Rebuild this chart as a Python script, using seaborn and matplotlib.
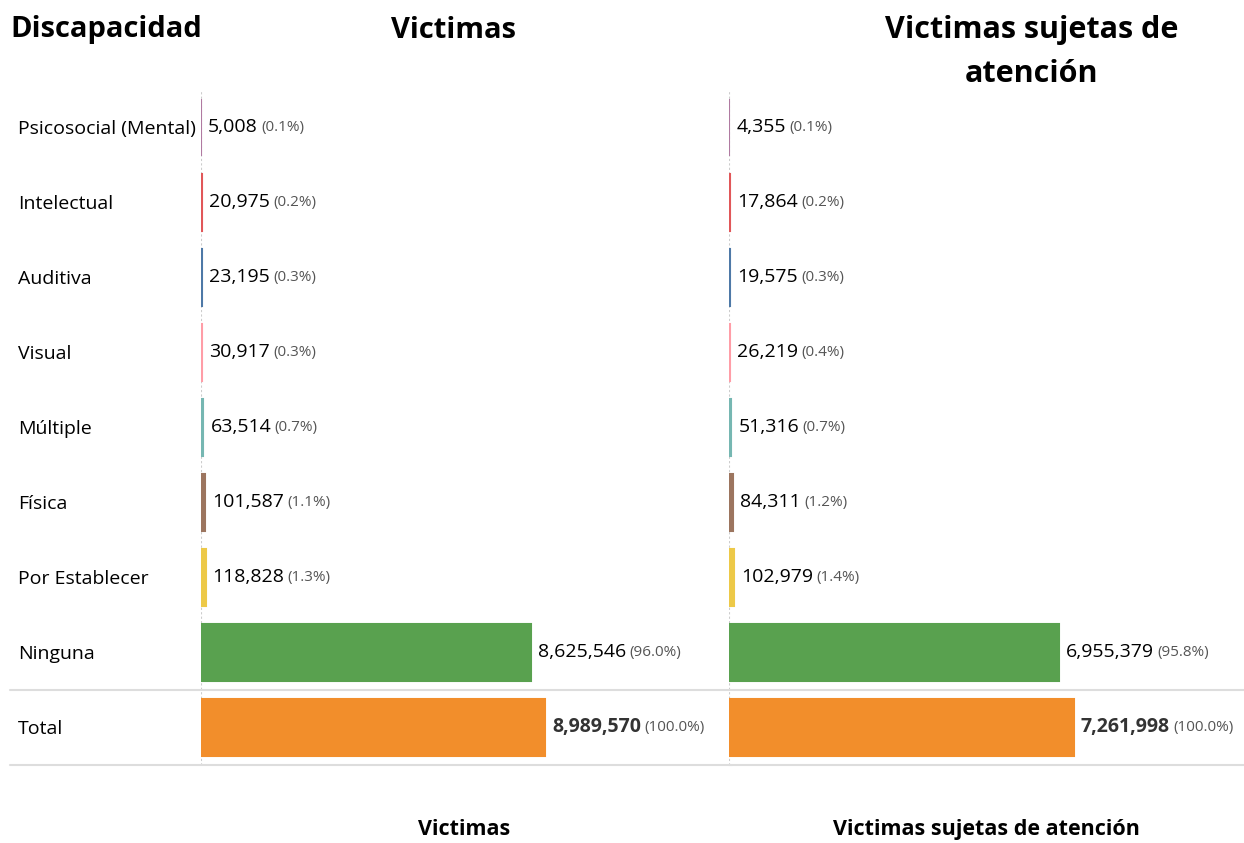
import matplotlib
matplotlib.use("Agg")
import matplotlib.pyplot as plt
import matplotlib.transforms as mtransforms
import seaborn as sns

# datos
categorias = ['Psicosocial (Mental)', 'Intelectual', 'Auditiva', 'Visual', 'Múltiple',
              'Física', 'Por Establecer', 'Ninguna', 'Total']
victimas = [5008, 20975, 23195, 30917, 63514, 101587, 118828, 8625546, 8989570]
victimas_pct = ['0.1%', '0.2%', '0.3%', '0.3%', '0.7%', '1.1%', '1.3%', '96.0%', '100.0%']
sujetas = [4355, 17864, 19575, 26219, 51316, 84311, 102979, 6955379, 7261998]
sujetas_pct = ['0.1%', '0.2%', '0.3%', '0.4%', '0.7%', '1.2%', '1.4%', '95.8%', '100.0%']
colores = ['#b07aa1', '#e15759', '#4e79a7', '#ff9da7', '#76b7b2',
           '#9c755f', '#edc948', '#59a14f', '#f28e2b']

sns.set_style('white')
plt.rcParams['font.family'] = ['Open Sans', 'DejaVu Sans']
plt.rcParams['text.color'] = 'black'
plt.rcParams['axes.labelcolor'] = 'black'

fig = plt.figure(figsize=(12.44, 8.43), dpi=100)
ax1 = fig.add_axes([0.1616, 0.0925, 0.4228, 0.8013])
ax2 = fig.add_axes([0.586, 0.0925, 0.414, 0.8013])

paleta = dict(zip(categorias, colores))


def panel(ax, valores, pcts, factor, etiqueta):
    sns.barplot(x=valores, y=categorias, hue=categorias, palette=paleta, legend=False,
                width=0.76, saturation=1, orient='h', ax=ax)
    # barras minimas visibles
    for bar in ax.patches:
        bar.set_edgecolor(bar.get_facecolor())
        bar.set_linewidth(1.5)
        bar.set_zorder(3)
    ax.set_xlim(0, max(valores) * factor)
    ax.set_ylim(8.5, -0.5)
    ax.set_xticks([])
    ax.set_yticks([])
    ax.set_ylabel('')
    for s in ax.spines.values():
        s.set_visible(False)
    ax.axvline(0, color='#cccccc', lw=0.8, ls=(0, (2, 2)), zorder=0)
    for i, (v, p) in enumerate(zip(valores, pcts)):
        total = categorias[i] == 'Total'
        t = ax.annotate(f'{v:,}', xy=(v, i), xytext=(5, 0), textcoords='offset points',
                        va='center', ha='left', fontsize=14,
                        color='#333333' if total else 'black',
                        fontweight='bold' if total else 'normal')
        ax.annotate(f'({p})', xy=(1, 0.5), xycoords=t, xytext=(2.5, 0),
                    textcoords='offset points', va='center', ha='left',
                    fontsize=11, color='#555555')
    ax.set_xlabel(etiqueta, fontsize=15.5, fontweight='bold')
    ax.xaxis.set_label_coords(0.5, -0.096)
    ax.xaxis.label.set_va('center')


panel(ax1, victimas, victimas_pct, 1.529, 'Victimas')
panel(ax2, sujetas, sujetas_pct, 1.493, 'Victimas sujetas de atención')

# etiquetas de filas
tr = mtransforms.blended_transform_factory(fig.transFigure, ax1.transData)
for i, c in enumerate(categorias):
    fig.text(18 / 1244, i, c, transform=tr, va='center_baseline', ha='left', fontsize=14)

# separadores
for y in [7.5, 8.5]:
    ax1.axhline(y, xmin=-0.363, xmax=1.01, color='#dddddd', lw=1.5, clip_on=False)
    ax2.axhline(y, xmin=0, xmax=1, color='#dddddd', lw=1.5, clip_on=False)

# titulos
fig.text(10 / 1244, 1 - 30 / 843, 'Discapacidad', fontsize=21, fontweight='bold',
         va='center', ha='left')
fig.text(453 / 1244, 1 - 30 / 843, 'Victimas', fontsize=21, fontweight='bold',
         va='center', ha='center')
fig.text(1032 / 1244, 1 - 52 / 843, 'Victimas sujetas de\natención', fontsize=22,
         fontweight='bold', va='center', ha='center', linespacing=1.6)

fig.savefig('out.png', dpi=100)
